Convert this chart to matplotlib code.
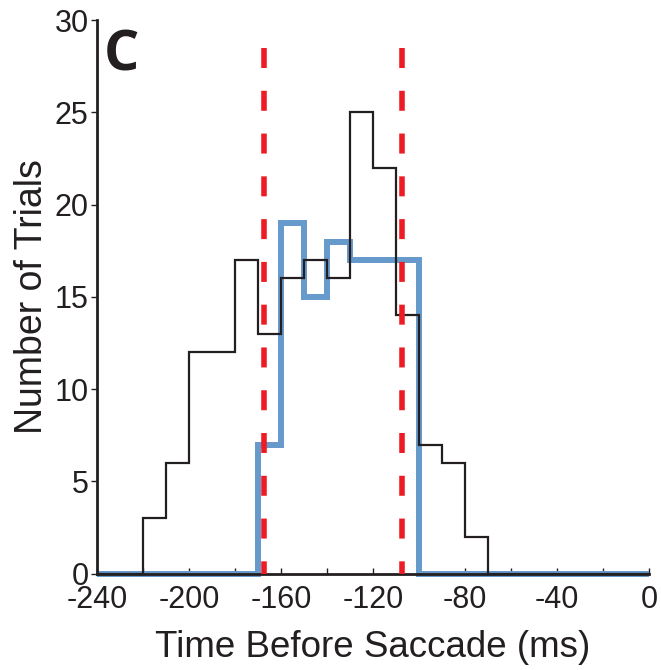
import numpy as np
import matplotlib
matplotlib.use('Agg')
from matplotlib import pyplot as plt

plt.rcParams['font.family'] = ['Liberation Sans', 'DejaVu Sans']
plt.rcParams['axes.unicode_minus'] = False

# bin edges (ms before saccade), 10 ms bins
edges = np.arange(-240, 1, 10)
# all trials (black)
counts_all = [0, 0, 3, 6, 12, 12, 17, 13, 16, 17, 16, 25, 22, 14, 7, 6, 2, 0, 0, 0, 0, 0, 0, 0]
# selected trials (blue)
counts_sel = [0, 0, 0, 0, 0, 0, 0, 7, 19, 15, 18, 17, 17, 17, 0, 0, 0, 0, 0, 0, 0, 0, 0, 0]
# window limits (red dashed)
window = [-167.5, -107.5]

xticks = [-240, -200, -160, -120, -80, -40, 0]
yticks = [0, 5, 10, 15, 20, 25, 30]

fig = plt.figure(figsize=(6.61, 6.70), dpi=100)
ax = fig.add_axes([0.1467, 0.1437, 0.8353, 0.8263])

ax.stairs(counts_sel, edges, color='#6699cc', linewidth=4.3, zorder=2, clip_on=False)
ax.stairs(counts_all, edges, color='#231f20', linewidth=1.6, zorder=3, clip_on=False)

for w in window:
    ax.plot([w, w], [28.5, 0], color='#ed1c24', linewidth=4, linestyle=(0, (3.6, 4.1)), zorder=4)

ax.set_xlim(-240, 0)
ax.set_ylim(0, 30)
ax.set_xticks(xticks)
ax.set_xticks(np.arange(-240, 1, 20), minor=True)
ax.set_yticks(yticks)

for s in ['top', 'right']:
    ax.spines[s].set_visible(False)
for s in ['left', 'bottom']:
    ax.spines[s].set_linewidth(2)
    ax.spines[s].set_color('#231f20')

ax.tick_params(axis='x', which='both', direction='in', length=4, width=1, labelsize=22, pad=8, colors='#231f20')
ax.tick_params(axis='y', direction='out', length=4, width=1, labelsize=22, pad=2, colors='#231f20')

ax.set_xlabel('Time Before Saccade (ms)', fontsize=26.5, color='#231f20', labelpad=11)
ax.set_ylabel('Number of Trials', fontsize=27, color='#231f20', labelpad=3)

ax.text(0.012, 0.985, 'C', transform=ax.transAxes, fontsize=40, fontweight='bold',
        family=['Open Sans', 'DejaVu Sans'], va='top', ha='left', color='#231f20')

fig.savefig('out.png', dpi=100)
